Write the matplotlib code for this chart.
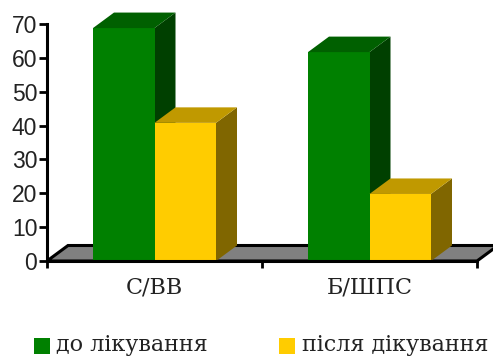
import matplotlib
matplotlib.use("Agg")
import matplotlib.pyplot as plt
from matplotlib.patches import Polygon, Rectangle

categories = ["С/ВВ", "Б/ШПС"]
before = [68.8, 61.7]
after = [40.8, 19.8]
series_names = ["до лікування", "після дікування"]
y_ticks = [0, 10, 20, 30, 40, 50, 60, 70]

W, H = 493, 357
# вісь: x 47..477 px, y 261..24 px
fig = plt.figure(figsize=(W / 100, H / 100), dpi=100)
ax = fig.add_axes([47 / W, 1 - 261 / H, (477 - 47) / W, (261 - 24) / H])
ax.set_xlim(0, 2)
ax.set_ylim(0, 70)
ax.patch.set_visible(False)

# зсув 3D у одиницях даних
dx = 21 / (430 / 2)
dy = 15.5 / (237 / 70)
bar_w = 61.5 / (430 / 2)

ax.add_patch(Polygon([(0, 0), (dx, dy), (2 + dx, dy), (2, 0)], closed=True,
                     facecolor="#808080", edgecolor="black", linewidth=2.2,
                     clip_on=False, zorder=1))


def bar3d(x, v, front, top, side):
    ax.bar(x, v, bar_w, align="edge", color=front, linewidth=0, zorder=3)
    ax.add_patch(Polygon([(x, v), (x + dx, v + dy), (x + bar_w + dx, v + dy), (x + bar_w, v)],
                         closed=True, facecolor=top, edgecolor="none", clip_on=False, zorder=3))
    ax.add_patch(Polygon([(x + bar_w, 0), (x + bar_w + dx, dy), (x + bar_w + dx, v + dy), (x + bar_w, v)],
                         closed=True, facecolor=side, edgecolor="none", clip_on=False, zorder=2))


for i in range(len(categories)):
    left = i + 0.5 - bar_w
    bar3d(left, before[i], "#008000", "#006000", "#004000")
    bar3d(left + bar_w, after[i], "#FFCC00", "#C09900", "#806600")

for s in ["top", "right"]:
    ax.spines[s].set_visible(False)
for s in ["left", "bottom"]:
    ax.spines[s].set_linewidth(2.2)
    ax.spines[s].set_zorder(4)

ax.set_yticks(y_ticks)
ax.tick_params(axis="y", length=6, width=2, pad=1, labelsize=16.5)
for t in ax.get_yticklabels():
    t.set_family("Liberation Sans")
    t.set_color("#222222")

ax.set_xticks([0, 1, 2])
ax.set_xticklabels([])
ax.tick_params(axis="x", length=5, width=2)
for i, c in enumerate(categories):
    ax.text(i + 0.5, -4.7, c, ha="center", va="top", family="DejaVu Serif", fontsize=16, color="#222222")

# легенда
fig.add_artist(Rectangle((34 / W, 1 - 354 / H), 16 / W, 16 / H, transform=fig.transFigure, color="#008000", lw=0))
fig.add_artist(Rectangle((279 / W, 1 - 354 / H), 16 / W, 16 / H, transform=fig.transFigure, color="#FFCC00", lw=0))
fig.text(56 / W, 1 - 351.5 / H, series_names[0], family="DejaVu Serif", fontsize=16, va="baseline", color="#222222")
fig.text(302 / W, 1 - 351.5 / H, series_names[1], family="DejaVu Serif", fontsize=16, va="baseline", color="#222222")

fig.savefig("out.png", dpi=100)
